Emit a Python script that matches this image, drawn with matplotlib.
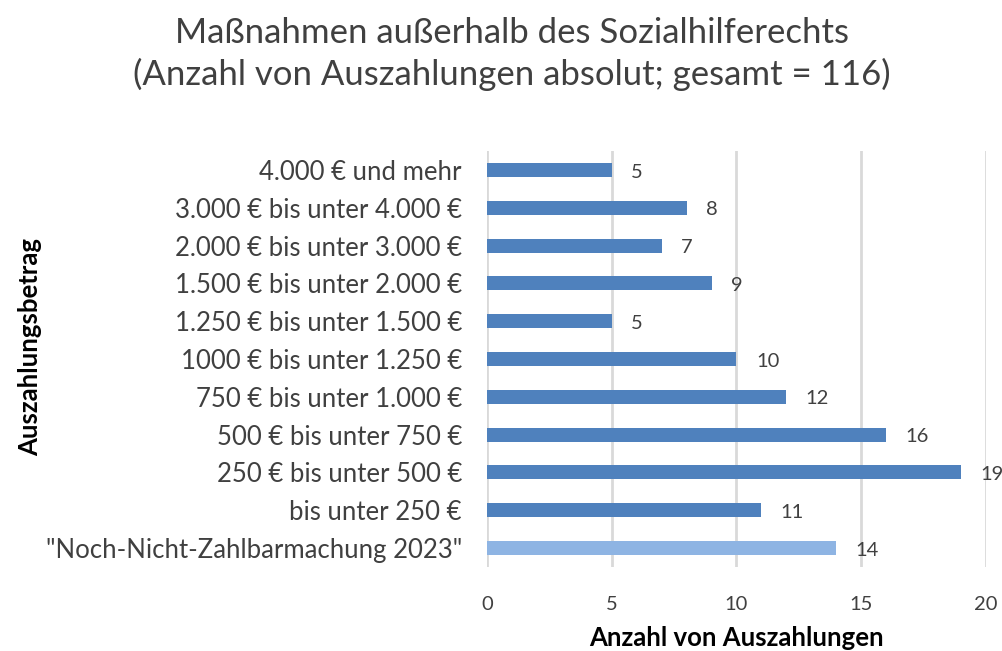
import matplotlib.pyplot as plt

# Daten
kategorien = ['4.000 € und mehr', '3.000 € bis unter 4.000 €', '2.000 € bis unter 3.000 €',
              '1.500 € bis unter 2.000 €', '1.250 € bis unter 1.500 €', '1000 € bis unter 1.250 €',
              '750 € bis unter 1.000 €', '500 € bis unter 750 €', '250 € bis unter 500 €',
              'bis unter 250 €', '"Noch-Nicht-Zahlbarmachung 2023"']
werte = [5, 8, 7, 9, 5, 10, 12, 16, 19, 11, 14]
farben = ['#4F81BD'] * 10 + ['#8EB4E3']

plt.rcParams['font.family'] = ['Lato', 'DejaVu Sans']
TXT = '#404040'

fig = plt.figure(figsize=(10.03, 6.51), dpi=100)
ax = fig.add_axes([0.4855, 0.129, 0.4975, 0.639])

pos = list(range(len(werte)))
ax.barh(pos, werte, height=0.37, color=farben, zorder=3)
ax.set_ylim(len(werte) - 0.5, -0.5)
ax.set_xlim(0, 20)
ax.set_xticks([0, 5, 10, 15, 20])
ax.set_yticks(pos)
ax.set_yticklabels(kategorien, fontsize=18.5, color=TXT)
ax.tick_params(axis='x', labelsize=14.5, colors=TXT, length=0, pad=21)
ax.tick_params(axis='y', length=0, pad=18)
ax.grid(axis='x', color='#D9D9D9', linewidth=2, zorder=0)
for s in ax.spines.values():
    s.set_visible(False)

for p, v in zip(pos, werte):
    ax.annotate(str(v), (v, p), xytext=(14, -1.5), textcoords='offset points',
                ha='left', va='center', fontsize=14.5, color=TXT, annotation_clip=False)

ax.set_xlabel('Anzahl von Auszahlungen', fontsize=18.5, fontweight='bold', color='black', labelpad=9)
fig.text(0.03, 0.467, 'Auszahlungsbetrag', rotation=90, fontsize=18.5, fontweight='bold',
         ha='center', va='center')

fig.text(0.51, 0.95, 'Maßnahmen außerhalb des Sozialhilferechts', fontsize=25,
         ha='center', va='center', color=TXT)
fig.text(0.51, 0.885, '(Anzahl von Auszahlungen absolut; gesamt = 116)', fontsize=25,
         ha='center', va='center', color=TXT)

fig.savefig('out.png', dpi=100)
